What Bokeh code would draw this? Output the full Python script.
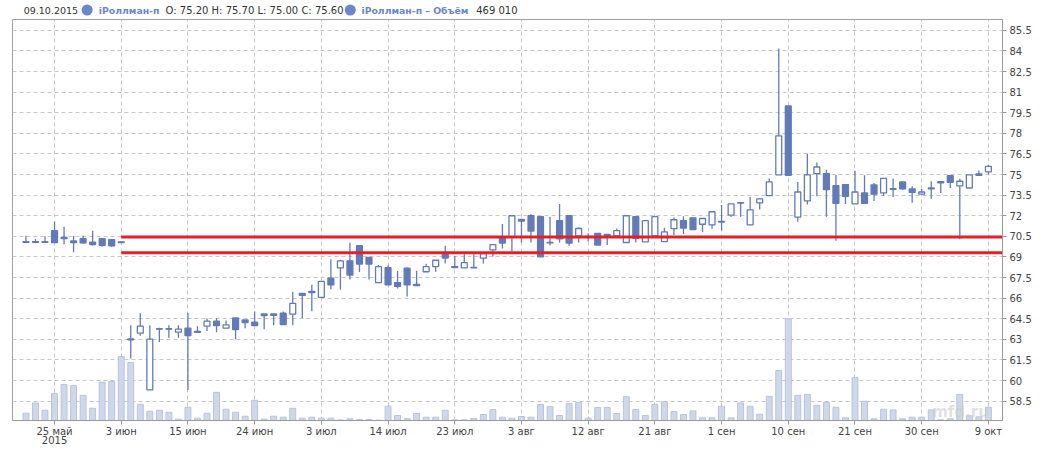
import pandas as pd
from bokeh.plotting import figure
from bokeh.models import ColumnDataSource, Range1d, FixedTicker, Label
from bokeh.layouts import column
from bokeh.core.properties import value
from bokeh.embed import file_html
from bokeh.resources import INLINE

# ---------------- data ----------------
holidays = ["2015-06-12"]
dates = [d.strftime("%Y-%m-%d") for d in pd.bdate_range("2015-05-20", "2015-10-09")
         if d.strftime("%Y-%m-%d") not in holidays]

open_ = [70.12, 70.12, 70.12, 70.91, 70.43, 70.16, 70.33, 70.07, 70.33, 70.26,
         70.10, 63.03, 63.45, 59.32, 63.78, 63.78, 63.52, 63.81, 63.57, 63.96,
         64.32, 63.81, 64.56, 64.41, 64.25, 64.85, 64.85, 64.90, 64.83, 66.35,
         66.49, 66.06, 67.45, 68.20, 68.72, 69.82, 68.96, 67.13, 68.22, 67.13,
         68.18, 67.00, 67.92, 68.29, 69.33, 68.30, 68.21, 68.24, 68.92, 69.51,
         70.36, 70.45, 71.73, 72.00, 71.93, 70.06, 71.65, 72.00, 70.53, 70.50,
         70.72, 70.64, 70.54, 70.05, 71.93, 70.09, 70.53, 70.12, 71.06, 71.64,
         71.85, 71.38, 71.34, 71.58, 72.04, 72.96, 71.34, 72.94, 73.47, 74.97,
         79.99, 71.90, 73.08, 75.06, 75.06, 74.19, 74.27, 72.86, 73.66, 74.24,
         73.66, 73.97, 74.46, 73.95, 73.57, 74.02, 74.48, 74.92, 74.17, 74.02,
         75.04, 75.20]
high = [70.55, 70.30, 70.50, 71.57, 71.20, 70.53, 70.55, 70.91, 70.33, 70.26,
        70.10, 64.03, 64.90, 64.03, 63.84, 64.03, 64.03, 64.92, 63.96, 64.51,
        64.56, 64.37, 64.56, 64.41, 65.02, 64.85, 64.85, 65.02, 66.47, 66.35,
        66.98, 67.22, 68.84, 68.80, 70.03, 69.82, 68.96, 68.42, 68.40, 67.98,
        68.23, 68.00, 68.50, 68.78, 69.82, 69.06, 69.20, 69.20, 69.25, 69.90,
        71.40, 72.00, 71.73, 72.13, 71.93, 71.93, 72.85, 72.00, 71.16, 70.72,
        70.72, 70.64, 71.08, 72.00, 71.93, 71.64, 71.93, 71.13, 71.88, 71.96,
        71.85, 71.80, 72.29, 72.78, 72.86, 72.96, 73.37, 73.23, 74.72, 84.17,
        79.99, 74.46, 76.51, 75.88, 75.35, 74.97, 74.27, 75.28, 74.94, 74.39,
        74.72, 74.72, 74.46, 74.14, 73.95, 74.51, 74.48, 74.92, 74.70, 74.97,
        75.30, 75.70]
low = [70.07, 70.07, 70.07, 70.04, 69.92, 69.34, 69.95, 69.83, 69.75, 69.73,
       70.05, 61.61, 63.26, 59.32, 62.80, 63.11, 63.11, 59.32, 63.50, 63.60,
       63.52, 63.81, 63.01, 63.81, 64.00, 63.74, 64.03, 64.08, 64.03, 64.56,
       65.04, 66.06, 66.64, 66.62, 67.35, 67.90, 67.35, 67.13, 66.96, 66.70,
       66.12, 66.90, 67.92, 67.92, 68.53, 68.20, 68.21, 68.20, 68.52, 69.03,
       69.62, 69.40, 70.05, 70.05, 69.01, 69.83, 70.05, 69.82, 70.05, 70.12,
       69.87, 69.87, 70.54, 70.03, 70.05, 70.09, 70.50, 70.12, 70.60, 70.67,
       71.00, 70.80, 71.05, 70.93, 71.90, 71.92, 71.34, 72.45, 73.47, 74.97,
       74.94, 71.56, 72.82, 73.42, 71.92, 70.18, 72.86, 72.86, 72.91, 73.08,
       73.44, 73.37, 73.90, 72.94, 73.57, 73.23, 73.66, 74.02, 70.28, 74.02,
       74.94, 75.00]
close = [70.07, 70.07, 70.07, 70.04, 70.33, 70.04, 70.02, 69.90, 69.85, 69.80,
         70.05, 62.97, 63.96, 63.01, 63.74, 63.74, 63.74, 63.28, 63.50, 64.32,
         64.00, 64.05, 63.71, 64.22, 64.00, 64.73, 64.75, 64.08, 65.62, 66.20,
         66.40, 67.22, 66.96, 68.71, 67.68, 68.48, 68.48, 68.29, 66.96, 66.85,
         66.96, 66.92, 68.29, 68.76, 68.92, 68.22, 68.58, 68.20, 69.25, 69.90,
         70.01, 72.00, 71.61, 70.89, 69.01, 70.02, 70.32, 70.01, 71.07, 70.45,
         69.87, 70.56, 70.91, 72.00, 70.35, 71.64, 71.93, 70.82, 71.71, 71.10,
         71.00, 71.80, 72.29, 71.54, 72.86, 72.92, 72.43, 73.23, 74.46, 77.82,
         74.94, 73.73, 74.97, 75.55, 73.90, 72.91, 73.42, 73.73, 72.91, 73.57,
         74.72, 73.93, 73.95, 73.71, 73.73, 73.95, 74.39, 74.43, 74.51, 74.97,
         74.94, 75.60]
volume = [258000, 621000, 363000, 961000, 1278000, 1243000, 891000, 434000, 1360000, 1384000,
          2263000, 2052000, 575000, 328000, 363000, 293000, 47000, 469000, 82000, 258000,
          997000, 399000, 293000, 152000, 715000, 47000, 152000, 117000, 434000, 82000,
          117000, 82000, 82000, 20000, 60000, 35000, 35000, 10000, 504000, 176000,
          70000, 246000, 117000, 117000, 363000, 23000, 23000, 70000, 211000, 387000,
          117000, 82000, 141000, 117000, 563000, 492000, 176000, 598000, 633000, 82000,
          457000, 457000, 246000, 844000, 387000, 176000, 563000, 668000, 317000, 211000,
          340000, 94000, 94000, 504000, 94000, 621000, 504000, 223000, 856000, 1770000,
          3600000, 891000, 926000, 539000, 645000, 469000, 94000, 1524000, 680000, 59000,
          399000, 375000, 59000, 117000, 117000, 375000, 23000, 59000, 926000, 164000,
          129000, 469010]

tick_dates = ["2015-05-25", "2015-06-03", "2015-06-15", "2015-06-24", "2015-07-03",
              "2015-07-14", "2015-07-23", "2015-08-03", "2015-08-12", "2015-08-21",
              "2015-09-01", "2015-09-10", "2015-09-21", "2015-09-30", "2015-10-09"]
tick_labels = ["25 май\n2015", "3 июн", "15 июн", "24 июн", "3 июл", "14 июл", "23 июл",
               "3 авг", "12 авг", "21 авг", "1 сен", "10 сен", "21 сен", "30 сен", "9 окт"]
y_ticks = [58.5, 60, 61.5, 63, 64.5, 66, 67.5, 69, 70.5, 72, 73.5, 75, 76.5,
           78, 79.5, 81, 82.5, 84, 85.5]
y_tick_labels = ["58.5", "60", "61.5", "63", "64.5", "66", "67.5", "69", "70.5", "72",
                 "73.5", "75", "76.5", "78", "79.5", "81", "82.5", "84", "85.5"]

levels = [70.45, 69.30]
level_start_date = "2015-06-03"

series_name = "iРоллман-п"
volume_name = "iРоллман-п – Объём"
header_date = "09.10.2015"

# ---------------- styling ----------------
BLUE = "#627bb8"
RED = "#e61e28"
FONT = "DejaVu Sans"
TXT = "#444444"
W = 1061

idx = list(range(len(dates)))
tick_idx = [dates.index(d) for d in tick_dates]

src = ColumnDataSource(dict(
    x=idx, o=open_, h=high, l=low, c=close, v=volume,
    top=[max(a, b) for a, b in zip(open_, close)],
    bot=[min(a, b) for a, b in zip(open_, close)],
    fill=["white" if c > o else BLUE for o, c in zip(open_, close)],
))

p = figure(width=W, height=430, x_range=Range1d(-1.41, 102.48),
           y_range=Range1d(57.09, 86.29), output_backend="svg",
           toolbar_location=None, y_axis_location="right",
           min_border_left=12, min_border_right=59, min_border_top=0,
           min_border_bottom=27)
p.extra_y_ranges = {"vol": Range1d(0, 14.2e6)}
p.background_fill_color = "white"
p.border_fill_color = "white"
p.outline_line_color = "#a0a0a0"

# grids
p.xgrid.ticker = FixedTicker(ticks=tick_idx)
p.ygrid.ticker = FixedTicker(ticks=y_ticks)
for g in (p.xgrid[0], p.ygrid[0]):
    g.grid_line_color = "#c8c8c8"
    g.grid_line_dash = "4 3"
    g.grid_line_width = 1

# x axis
xa = p.xaxis[0]
xa.ticker = FixedTicker(ticks=tick_idx)
xa.major_label_overrides = {i: lab for i, lab in zip(tick_idx, tick_labels)}
xa.minor_tick_line_color = None
xa.major_tick_in = 0
xa.major_tick_out = 4
xa.major_tick_line_color = "#999999"
xa.axis_line_color = "#999999"
xa.major_label_standoff = 1
xa.major_label_text_font = FONT
xa.major_label_text_font_size = "10px"
xa.major_label_text_color = TXT
xa.major_label_text_line_height = 0.9

# y axis (right)
ya = p.yaxis[0]
ya.ticker = FixedTicker(ticks=y_ticks)
ya.major_label_overrides = {t: lab for t, lab in zip(y_ticks, y_tick_labels)}
ya.minor_tick_line_color = None
ya.major_tick_in = 0
ya.major_tick_out = 4
ya.major_tick_line_color = "#999999"
ya.axis_line_color = "#999999"
ya.major_label_standoff = 3
ya.major_label_text_font = FONT
ya.major_label_text_font_size = "10px"
ya.major_label_text_color = TXT

# volume bars
p.vbar(x="x", top="v", bottom=0, width=0.62, source=src, y_range_name="vol",
       fill_color="#cfd8ea", line_color="#b7c3df", line_width=1)

# candles
p.segment(x0="x", y0="l", x1="x", y1="h", source=src, line_color=BLUE, line_width=1.3)
p.vbar(x="x", top="top", bottom="bot", width=0.62, source=src,
       fill_color="fill", line_color=BLUE, line_width=1.3)

# level lines
ls = dates.index(level_start_date)
p.segment(x0=[ls] * len(levels), x1=[p.x_range.end] * len(levels),
          y0=levels, y1=levels, line_color=RED, line_width=3)

# watermark
p.add_layout(Label(x=95.1, y=57.68, text="mfd.ru", text_font=FONT,
                   text_font_size="15px", text_font_style="bold",
                   text_color="#cccccc", text_alpha=0.6,
                   text_baseline="alphabetic"))

# ---------------- header ----------------
HH = 19
h = figure(width=W, height=HH, x_range=Range1d(0, W), y_range=Range1d(0, HH),
           output_backend="svg", toolbar_location=None, min_border=0,
           x_axis_type=None, y_axis_type=None)
h.outline_line_color = None
h.background_fill_color = "white"
h.border_fill_color = "white"

ohlc = "O: %.2f H: %.2f L: %.2f C: %.2f" % (open_[-1], high[-1], low[-1], close[-1])
vol_txt = "{:,}".format(volume[-1]).replace(",", " ")

hy = HH - 9.5
h.text(x=[12], y=[hy], text=[header_date],
       text_font=value(FONT), text_font_size="9.5px", text_color="#333333",
       text_baseline="middle")
h.text(x=[164, 497], y=[hy] * 2, text=[ohlc, vol_txt],
       text_font=value(FONT), text_font_size="10px", text_color="#333333",
       text_baseline="middle")
h.text(x=[92.5, 374], y=[hy] * 2, text=[series_name, volume_name],
       text_font=value(FONT), text_font_size="9.3px", text_font_style="bold",
       text_color="#6b87c7", text_baseline="middle")
h.scatter(x=[80, 362], y=[hy, hy], size=11, fill_color="#6b87c7", line_color=None)

layout = column(h, p, spacing=0)
open("out.html", "w").write(file_html(layout, INLINE))
